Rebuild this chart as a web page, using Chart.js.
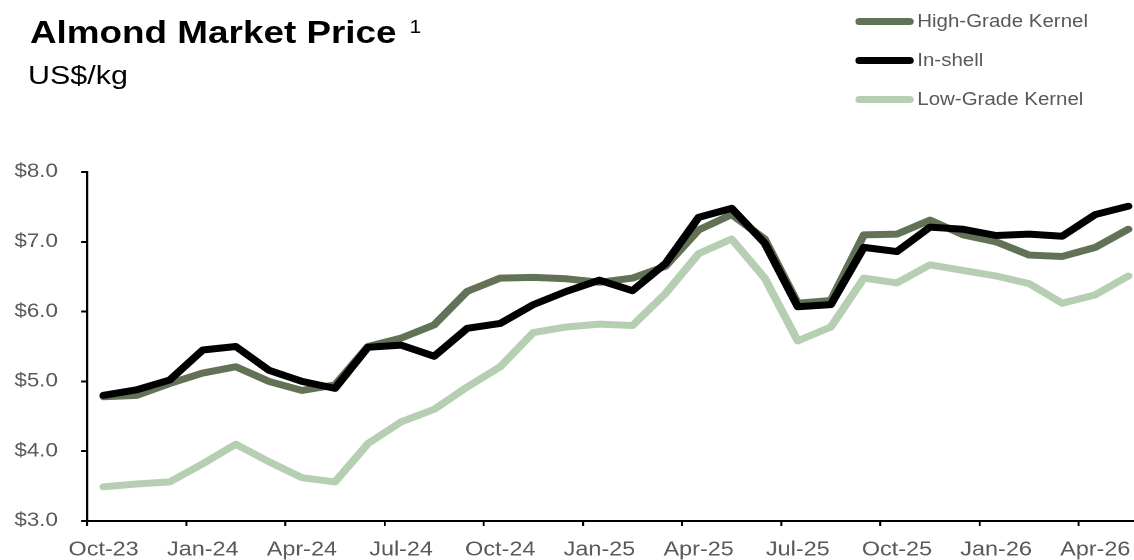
<!DOCTYPE html>
<html>
<head>
<meta charset="utf-8">
<script src="https://cdn.jsdelivr.net/npm/chart.js@4"></script>
<style>
html, body { margin: 0; padding: 0; overflow: hidden; background: #fff; }
#page {
    position: absolute; left: 0; top: 0; width: 982px; height: 560px;
    transform: scaleX(1.17); transform-origin: 0 0;
    font-family: "Liberation Sans", Arial, sans-serif;
}
#chartBox { position: absolute; left: 0; top: 0; width: 982px; height: 560px; }
#title { position: absolute; left: 25.6px; top: 17px; font-size: 31.5px; line-height: 31px; font-weight: bold; color: #000; white-space: nowrap; }
#title sup { font-size: 18px; font-weight: normal; margin-left: 11px; vertical-align: 10px; line-height: 0; }
#subtitle { position: absolute; left: 24px; top: 62px; font-size: 26px; line-height: 26px; color: #000; }
#legend { position: absolute; left: 731px; top: 0; }
.legend-row { position: absolute; left: 0; height: 20px; display: flex; align-items: center; white-space: nowrap; font-size: 17.5px; color: #595959; }
.legend-line { display: inline-block; width: 49.6px; height: 7px; border-radius: 3.5px; margin-right: 3.4px; }
</style>
</head>
<body>
<div id="page">
    <div id="chartBox"><canvas id="chart"></canvas></div>
    <div id="title">Almond Market Price<sup>1</sup></div>
    <div id="subtitle">US$/kg</div>
    <div id="legend"></div>
</div>
<script>
var months = ['Oct-23','Nov-23','Dec-23','Jan-24','Feb-24','Mar-24','Apr-24','May-24','Jun-24',
    'Jul-24','Aug-24','Sep-24','Oct-24','Nov-24','Dec-24','Jan-25','Feb-25','Mar-25','Apr-25',
    'May-25','Jun-25','Jul-25','Aug-25','Sep-25','Oct-25','Nov-25','Dec-25','Jan-26','Feb-26',
    'Mar-26','Apr-26','May-26'];

var highGrade = [4.78,4.80,4.97,5.12,5.21,5.00,4.87,4.95,5.50,5.62,5.81,6.29,6.48,6.49,6.47,6.42,
    6.48,6.65,7.17,7.39,7.04,6.12,6.16,7.10,7.11,7.31,7.10,7.00,6.81,6.79,6.92,7.18];
var inShell = [4.80,4.88,5.02,5.45,5.50,5.16,5.00,4.90,5.49,5.52,5.36,5.76,5.83,6.10,6.29,6.45,
    6.30,6.69,7.35,7.48,6.98,6.07,6.10,6.92,6.86,7.21,7.18,7.09,7.11,7.08,7.39,7.51];
var lowGrade = [3.49,3.53,3.56,3.82,4.10,3.85,3.62,3.56,4.11,4.42,4.60,4.92,5.21,5.70,5.78,5.82,
    5.80,6.26,6.83,7.04,6.48,5.58,5.78,6.48,6.41,6.67,6.59,6.51,6.40,6.12,6.24,6.51];

var seriesNames = ['High-Grade Kernel', 'In-shell', 'Low-Grade Kernel'];
var seriesColors = ['#627257', '#000000', '#b6cfb3'];
var yMin = 3, yMax = 8, yStep = 1;

// legend, built from the same names/colours
var legendRows = [21, 60, 99];
var legendEl = document.getElementById('legend');
seriesNames.forEach(function(name, i) {
    var row = document.createElement('div');
    row.className = 'legend-row';
    row.style.top = (legendRows[i] - 10) + 'px';
    var line = document.createElement('span');
    line.className = 'legend-line';
    line.style.background = seriesColors[i];
    row.appendChild(line);
    row.appendChild(document.createTextNode(name));
    legendEl.appendChild(row);
});

var makeSet = function(i, data, order) {
    return {
        label: seriesNames[i],
        data: data,
        borderColor: seriesColors[i],
        backgroundColor: seriesColors[i],
        borderWidth: 7,
        borderCapStyle: 'round',
        borderJoinStyle: 'round',
        pointRadius: 0,
        tension: 0,
        order: order
    };
}

new Chart(document.getElementById('chart'), {
    type: 'line',
    data: {
        labels: months,
        datasets: [
            makeSet(0, highGrade, 1),
            makeSet(1, inShell, 0),
            makeSet(2, lowGrade, 2)
        ]
    },
    options: {
        responsive: true,
        maintainAspectRatio: false,
        animation: false,
        devicePixelRatio: 2,
        layout: { padding: { top: 172, right: 1, bottom: 0, left: 0 } },
        plugins: {
            legend: { display: false },
            title: { display: false },
            tooltip: { enabled: false }
        },
        scales: {
            x: {
                type: 'category',
                offset: true,
                afterFit: function(s) { s.height = 39; },
                border: { display: true, color: '#000', width: 2 },
                grid: {
                    offset: true,
                    drawOnChartArea: false,
                    drawTicks: true,
                    tickLength: 5,
                    lineWidth: 1.7,
                    color: function(c) { return c.index % 3 === 0 ? '#000' : 'rgba(0,0,0,0)'; }
                },
                ticks: {
                    autoSkip: false,
                    maxRotation: 0,
                    padding: 12,
                    color: '#595959',
                    font: { family: 'Liberation Sans', size: 20 },
                    callback: function(v, i) { return i % 3 === 0 ? months[i] : ''; }
                }
            },
            y: {
                min: yMin,
                max: yMax,
                afterFit: function(s) { s.width = 74.4; },
                border: { display: true, color: '#000', width: 2 },
                grid: {
                    drawOnChartArea: false,
                    drawTicks: true,
                    tickLength: 5,
                    lineWidth: 2,
                    color: '#000'
                },
                ticks: {
                    stepSize: yStep,
                    padding: 20,
                    color: '#595959',
                    font: { family: 'Liberation Sans', size: 19 },
                    callback: function(v) { return '$' + v.toFixed(1); }
                }
            }
        }
    }
});
</script>
</body>
</html>
